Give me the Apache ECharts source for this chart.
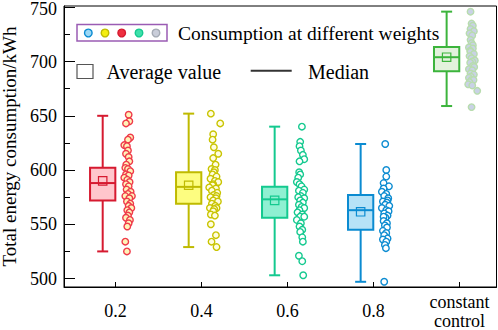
<!DOCTYPE html>
<html>
<head>
<meta charset="utf-8">
<script src="https://cdn.jsdelivr.net/npm/echarts@6/dist/echarts.min.js"></script>
<style>
html,body{margin:0;padding:0;background:#fff;}
#chart{width:498px;height:330px;}
</style>
</head>
<body>
<div id="chart"></div>
<script>
// ---- data ----
const categories = ['0.2', '0.4', '0.6', '0.8', 'constant\ncontrol'];
const yTickValues = [500, 550, 600, 650, 700, 750];
const yMinorTickValues = [525, 575, 625, 675, 725];

// box statistics
const boxMin    = [525, 529, 503, 497, 659];
const boxQ1     = [572, 569, 556, 545, 691];
const boxMedian = [588, 584.5, 573, 563, 704];
const boxQ3     = [602, 598, 584.5, 577, 713.5];
const boxMax    = [650, 652, 640, 624, 746];
const boxMean   = [590, 586, 572, 561.5, 704];

// individual samples: [x offset from category (axis units), value]
const pts02 = [[0.152,651],[0.160,645],[0.121,643],[0.171,630],[0.144,628],[0.101,623],[0.132,622],[0.144,618],[0.121,615],[0.152,612],[0.160,608],[0.124,605],[0.113,602],[0.144,601],[0.171,599],[0.121,596],[0.152,595],[0.101,593],[0.136,591],[0.163,589],[0.121,587],[0.152,585],[0.128,582],[0.175,580],[0.144,578],[0.113,576],[0.190,576],[0.160,574],[0.132,571],[0.171,569],[0.152,567],[0.183,565],[0.136,563],[0.160,561],[0.144,558],[0.121,556],[0.167,554],[0.152,551],[0.136,548],[0.113,534],[0.132,525]];
const pts04 = [[0.108,652],[0.217,643],[0.135,633],[0.128,628],[0.143,621],[0.194,615],[0.135,611],[0.163,605],[0.116,601],[0.155,600],[0.143,598],[0.128,596],[0.174,594],[0.104,592],[0.155,590],[0.194,589],[0.135,587],[0.128,586],[0.089,584],[0.167,583],[0.120,581],[0.182,579],[0.143,577],[0.174,576],[0.104,575],[0.167,574],[0.135,572],[0.190,571],[0.120,569],[0.159,567],[0.097,565],[0.174,565],[0.147,564],[0.135,562],[0.108,559],[0.155,558],[0.108,550],[0.167,540],[0.116,534],[0.174,529]];
const pts06 = [[0.167,640],[0.147,626],[0.139,622],[0.155,618],[0.178,614],[0.194,610],[0.139,608],[0.135,598],[0.147,596],[0.124,593],[0.108,589],[0.139,587],[0.163,585],[0.194,582],[0.132,581],[0.178,579],[0.155,576],[0.124,575],[0.194,574],[0.147,572],[0.178,570],[0.132,568],[0.163,566],[0.194,565],[0.139,563],[0.116,561],[0.171,559],[0.147,557],[0.194,557],[0.108,554],[0.155,551],[0.139,548],[0.171,545],[0.147,543],[0.171,538],[0.178,534],[0.132,521],[0.171,516],[0.182,503]];
const pts08 = [[0.136,624],[0.148,600],[0.148,594],[0.117,588],[0.179,585],[0.117,583],[0.097,580],[0.148,578],[0.124,576],[0.171,574],[0.163,572],[0.109,571],[0.156,570],[0.136,568],[0.183,567],[0.097,565],[0.148,563],[0.175,562],[0.124,560],[0.163,558],[0.140,556],[0.117,557],[0.117,553],[0.156,551],[0.132,549],[0.156,547],[0.109,544],[0.148,542],[0.124,540],[0.163,537],[0.109,536],[0.148,534],[0.132,531],[0.144,528],[0.124,497]];
const ptsConst = [[0.128,746],[0.140,735],[0.155,733],[0.128,730],[0.167,728],[0.116,726],[0.148,724],[0.128,720],[0.140,717],[0.155,715],[0.109,713],[0.155,712],[0.124,710],[0.128,709],[0.167,707],[0.116,705],[0.140,703],[0.178,701],[0.148,700],[0.124,699],[0.155,696],[0.171,695],[0.109,693],[0.148,692],[0.128,689],[0.167,688],[0.132,686],[0.109,685],[0.140,683],[0.163,683],[0.116,681],[0.101,679],[0.148,678],[0.206,673],[0.140,658]];
const samples = [pts02, pts04, pts06, pts08, ptsConst];

// ---- styles ----
const boxStroke = ['#d61a30', '#bfba00', '#14c98f', '#0b8bd1', '#3cb43c'];
const boxFill   = ['#ffc6cc', '#fdfd80', '#8ff0d2', '#b6e2f7', '#e3f2dd'];
const ptStroke  = ['#ef3a4a', '#c9c400', '#14c98f', '#0b8bd1', '#b8dcae'];
const ptFill    = ['#fff3b8', '#fffde0', '#ffffff', '#ffffff', '#c9d2e6'];
const FONT = '"Liberation Serif", "Times New Roman", serif';

const chart = echarts.init(document.getElementById('chart'), null, {renderer: 'svg'});

const boxData = categories.map((c, i) => [i + 1, boxMin[i], boxQ1[i], boxMedian[i], boxQ3[i], boxMax[i], boxMean[i]]);

function renderBox(params, api) {
  const i = params.dataIndex;
  const x = api.value(0);
  const left = api.coord([x - 0.297, 0])[0];
  const right = api.coord([x - 0.003, 0])[0];
  const cx = (left + right) / 2;
  const yMin = api.coord([x, api.value(1)])[1];
  const yQ1 = api.coord([x, api.value(2)])[1];
  const yMed = api.coord([x, api.value(3)])[1];
  const yQ3 = api.coord([x, api.value(4)])[1];
  const yMax = api.coord([x, api.value(5)])[1];
  const yMean = api.coord([x, api.value(6)])[1];
  const st = {stroke: boxStroke[i], lineWidth: 2, fill: null};
  const cap = 5.5, sq = 4.2;
  return {
    type: 'group',
    children: [
      {type: 'line', shape: {x1: cx, y1: yMax, x2: cx, y2: yQ3}, style: st},
      {type: 'line', shape: {x1: cx, y1: yQ1, x2: cx, y2: yMin}, style: st},
      {type: 'line', shape: {x1: cx - cap, y1: yMax, x2: cx + cap, y2: yMax}, style: st},
      {type: 'line', shape: {x1: cx - cap, y1: yMin, x2: cx + cap, y2: yMin}, style: st},
      {type: 'rect', shape: {x: left, y: yQ3, width: right - left, height: yQ1 - yQ3},
        style: {stroke: boxStroke[i], lineWidth: 2, fill: boxFill[i]}},
      {type: 'line', shape: {x1: left, y1: yMed, x2: right, y2: yMed}, style: st},
      {type: 'rect', shape: {x: cx - sq, y: yMean - sq, width: 2 * sq, height: 2 * sq},
        style: {stroke: boxStroke[i], lineWidth: 1.2, fill: null}}
    ]
  };
}

const series = [{
  type: 'custom',
  renderItem: renderBox,
  data: boxData,
  encode: {x: 0, y: [1, 2, 3, 4, 5, 6]},
  z: 2,
  silent: true
}];
samples.forEach((pts, i) => {
  series.push({
    type: 'scatter',
    data: pts.map(p => [i + 1 + p[0], p[1]]),
    symbol: 'circle',
    symbolSize: 6.5,
    itemStyle: {color: ptFill[i], borderColor: ptStroke[i], borderWidth: 1.4, opacity: 1},
    z: 3,
    silent: true
  });
});

const legendCircleStroke = ['#0b8bd1', '#bfba00', '#d61a30', '#14c98f', '#a4aab4'];
const legendCircleFill   = ['#9cd8f5', '#f4ee10', '#ee3040', '#3ee0aa', '#c9cdd9'];
const legendCircleX = [88.3, 105, 121.7, 139, 156];

const graphic = [
  {type: 'rect', shape: {x: 77, y: 24.5, width: 90, height: 16.5}, style: {stroke: '#9a5cb4', lineWidth: 1.5, fill: '#fff'}, z: 10},
  ...legendCircleX.map((cx, k) => ({type: 'circle', shape: {cx: cx, cy: 33, r: 3.8},
     style: {stroke: legendCircleStroke[k], lineWidth: 1.4, fill: legendCircleFill[k]}, z: 11})),
  {type: 'text', x: 178, y: 33, style: {text: 'Consumption at different weights', font: '19.5px ' + FONT, fill: '#000', verticalAlign: 'middle'}, z: 10},
  {type: 'rect', shape: {x: 77, y: 64.5, width: 16, height: 14}, style: {stroke: '#555', lineWidth: 1.2, fill: 'none'}, z: 10},
  {type: 'text', x: 106.5, y: 71.5, style: {text: 'Average value', font: '20px ' + FONT, fill: '#000', verticalAlign: 'middle'}, z: 10},
  {type: 'line', shape: {x1: 250.7, y1: 70.7, x2: 291.7, y2: 70.7}, style: {stroke: '#333', lineWidth: 2}, z: 10},
  {type: 'text', x: 308, y: 71.5, style: {text: 'Median', font: '20px ' + FONT, fill: '#000', verticalAlign: 'middle'}, z: 10}
];

const option = {
  animation: false,
  backgroundColor: '#fff',
  grid: {left: 64, right: 1.5, top: 6, bottom: 43, show: true, borderColor: '#000', borderWidth: 1,
         backgroundColor: 'transparent', containLabel: false, outerBoundsMode: 'none'},
  xAxis: {
    type: 'value', min: 0.4, max: 5.43,
    axisLine: {show: true, onZero: false, lineStyle: {color: '#000', width: 1}},
    axisTick: {show: true, inside: true, length: 5, customValues: [1, 2, 3, 4, 5], lineStyle: {color: '#000'}},
    axisLabel: {
      customValues: [1, 2, 3, 4, 5],
      formatter: v => categories[Math.round(v) - 1],
      fontFamily: FONT, fontSize: 18, color: '#000', margin: 24, verticalAlign: 'middle', lineHeight: 19, align: 'center'
    },
    splitLine: {show: false}
  },
  yAxis: [{
    type: 'value', min: 492.2, max: 751.2, position: 'left',
    axisLine: {show: true, onZero: false, lineStyle: {color: '#000', width: 1}},
    axisTick: {show: true, inside: true, length: 11, customValues: yTickValues, lineStyle: {color: '#000'}},
    axisLabel: {
      customValues: yTickValues, fontFamily: FONT, fontSize: 18, lineHeight: 14, color: '#000', margin: 7,
      formatter: v => (v === yTickValues[yTickValues.length - 1] ? '{t|' + v + '}' : String(v)),
      rich: {t: {fontFamily: FONT, fontSize: 18, lineHeight: 14, color: '#000', padding: [4, 0, 0, 0]}}
    },
    splitLine: {show: false},
    name: 'Total energy consumption/kWh',
    nameLocation: 'middle', nameGap: 44, nameRotate: 90,
    nameTextStyle: {fontFamily: FONT, fontSize: 19, lineHeight: 19, color: '#000'}
  }, {
    type: 'value', min: 492.2, max: 751.2, position: 'left', offset: 0,
    axisLine: {show: false},
    axisTick: {show: true, inside: true, length: 6, customValues: yMinorTickValues, lineStyle: {color: '#000'}},
    axisLabel: {show: false},
    splitLine: {show: false}
  }],
  graphic: graphic,
  series: series
};
chart.setOption(option);
</script>
</body>
</html>
